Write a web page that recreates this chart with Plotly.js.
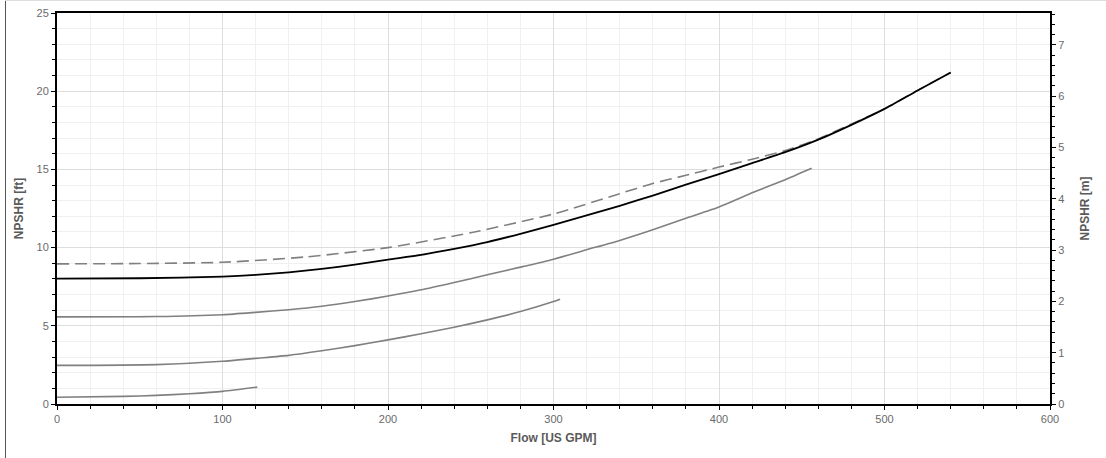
<!DOCTYPE html>
<html>
<head>
<meta charset="utf-8">
<script src="https://cdn.plot.ly/plotly-3.0.1.min.js"></script>
<style>
  html, body { margin: 0; padding: 0; background: #fff; }
  #wrap { position: relative; width: 1106px; height: 458px; }
  #chart { position: absolute; left: 0; top: 0; width: 1106px; height: 458px; }
  #frameL { position: absolute; left: 5px; top: 0; width: 1px; height: 458px; background: #555; }
  #frameT { position: absolute; left: 5px; top: 0; width: 1101px; height: 1px; background: #ddd; }
</style>
</head>
<body>
<div id="wrap">
  <div id="chart"></div>
  <div id="frameL"></div>
  <div id="frameT"></div>
</div>
<script>
// Flow [US GPM] and NPSHR [ft]
const flowMain  = [0, 50, 100, 120, 140, 160, 180, 200, 220, 240, 260, 280, 300, 320, 340, 360, 380, 400, 420, 440, 460, 480, 500, 520, 540];
const npshrMain = [8.02, 8.04, 8.14, 8.25, 8.42, 8.64, 8.91, 9.23, 9.54, 9.92, 10.35, 10.88, 11.46, 12.06, 12.67, 13.33, 14.02, 14.7, 15.4, 16.1, 16.9, 17.85, 18.87, 20.05, 21.2];

const flowDashed  = [0, 50, 100, 150, 200, 250, 300, 340, 360, 380, 400, 420, 440, 460, 480, 500, 520, 540];
const npshrDashed = [8.96, 8.98, 9.06, 9.4, 10.0, 10.95, 12.15, 13.45, 14.1, 14.62, 15.15, 15.65, 16.2, 16.95, 17.9, 18.87, 20.05, 21.2];

const flowGray1  = [0, 60, 100, 120, 140, 160, 180, 200, 220, 240, 260, 280, 300, 320, 340, 360, 380, 400, 420, 440, 456];
const npshrGray1 = [5.57, 5.59, 5.71, 5.86, 6.03, 6.25, 6.55, 6.9, 7.3, 7.77, 8.26, 8.75, 9.26, 9.86, 10.46, 11.14, 11.88, 12.6, 13.5, 14.34, 15.07];

const flowGray2  = [0, 60, 100, 120, 140, 160, 180, 200, 220, 240, 260, 280, 300, 304];
const npshrGray2 = [2.47, 2.52, 2.73, 2.92, 3.11, 3.4, 3.73, 4.1, 4.49, 4.91, 5.38, 5.91, 6.55, 6.7];

const flowGray3  = [0, 40, 60, 80, 100, 121];
const npshrGray3 = [0.43, 0.49, 0.55, 0.66, 0.81, 1.08];

const ftMax = 25;
const ftToM = 0.3048;

const xTitle = 'Flow [US GPM]';
const yTitle = 'NPSHR [ft]';
const y2Title = 'NPSHR [m]';

const grayLine = { color: '#808080', width: 1.6, shape: 'spline', smoothing: 0.6 };

const traces = [
  { x: flowGray3, y: npshrGray3, mode: 'lines', line: grayLine, hoverinfo: 'skip' },
  { x: flowGray2, y: npshrGray2, mode: 'lines', line: grayLine, hoverinfo: 'skip' },
  { x: flowGray1, y: npshrGray1, mode: 'lines', line: grayLine, hoverinfo: 'skip' },
  { x: flowDashed, y: npshrDashed, mode: 'lines', line: { color: '#808080', width: 1.6, dash: '12px,6px', shape: 'spline', smoothing: 0.6 }, hoverinfo: 'skip' },
  { x: flowMain, y: npshrMain, mode: 'lines', line: { color: '#000000', width: 1.8, shape: 'spline', smoothing: 0.6 }, hoverinfo: 'skip' },
  // invisible trace to activate the right (metric) axis
  { x: [0], y: [0], yaxis: 'y2', mode: 'lines', line: { width: 0 }, hoverinfo: 'skip', showlegend: false }
];

const tickFont = { family: 'Liberation Sans, Arial, sans-serif', size: 11, color: '#6a6a6a' };
const titleFont = { family: 'Liberation Sans, Arial, sans-serif', size: 12, color: '#5a5a5a', weight: 'bold' };

const layout = {
  width: 1106, height: 458,
  margin: { l: 57, r: 56, t: 13, b: 54 },
  paper_bgcolor: 'rgba(0,0,0,0)',
  plot_bgcolor: '#ffffff',
  showlegend: false,
  xaxis: {
    range: [0, 600], dtick: 100, tick0: 0,
    showline: true, linecolor: '#000', linewidth: 2, mirror: true,
    ticks: 'outside', ticklen: 4, tickcolor: '#000', tickwidth: 1,
    showgrid: true, gridcolor: '#dddddd', gridwidth: 1,
    zeroline: false,
    tickfont: tickFont,
    minor: { dtick: 20, ticks: 'outside', ticklen: 3, tickcolor: '#000', showgrid: true, gridcolor: '#f0f0f0', gridwidth: 1 },
    title: { text: xTitle, font: titleFont, standoff: 9 }
  },
  yaxis: {
    range: [0, ftMax], dtick: 5, tick0: 0,
    showline: true, linecolor: '#000', linewidth: 2, mirror: false,
    ticks: 'outside', ticklen: 4, tickcolor: '#000', tickwidth: 1,
    showgrid: true, gridcolor: '#dddddd', gridwidth: 1,
    zeroline: false,
    tickfont: tickFont,
    minor: { dtick: 1, ticks: 'outside', ticklen: 3, tickcolor: '#000', showgrid: true, gridcolor: '#f0f0f0', gridwidth: 1 },
    title: { text: yTitle, font: titleFont, standoff: 10 }
  },
  yaxis2: {
    overlaying: 'y', side: 'right',
    range: [0, ftMax * ftToM], dtick: 1, tick0: 0,
    showline: true, linecolor: '#000', linewidth: 2,
    ticks: 'outside', ticklen: 4, tickcolor: '#000', tickwidth: 1,
    showgrid: false, zeroline: false,
    tickfont: tickFont,
    minor: { dtick: 0.2, ticks: 'outside', ticklen: 3, tickcolor: '#000', showgrid: false },
    title: { text: y2Title, font: titleFont, standoff: 17 }
  }
};

Plotly.newPlot('chart', traces, layout, { displayModeBar: false, staticPlot: true });
</script>
</body>
</html>
